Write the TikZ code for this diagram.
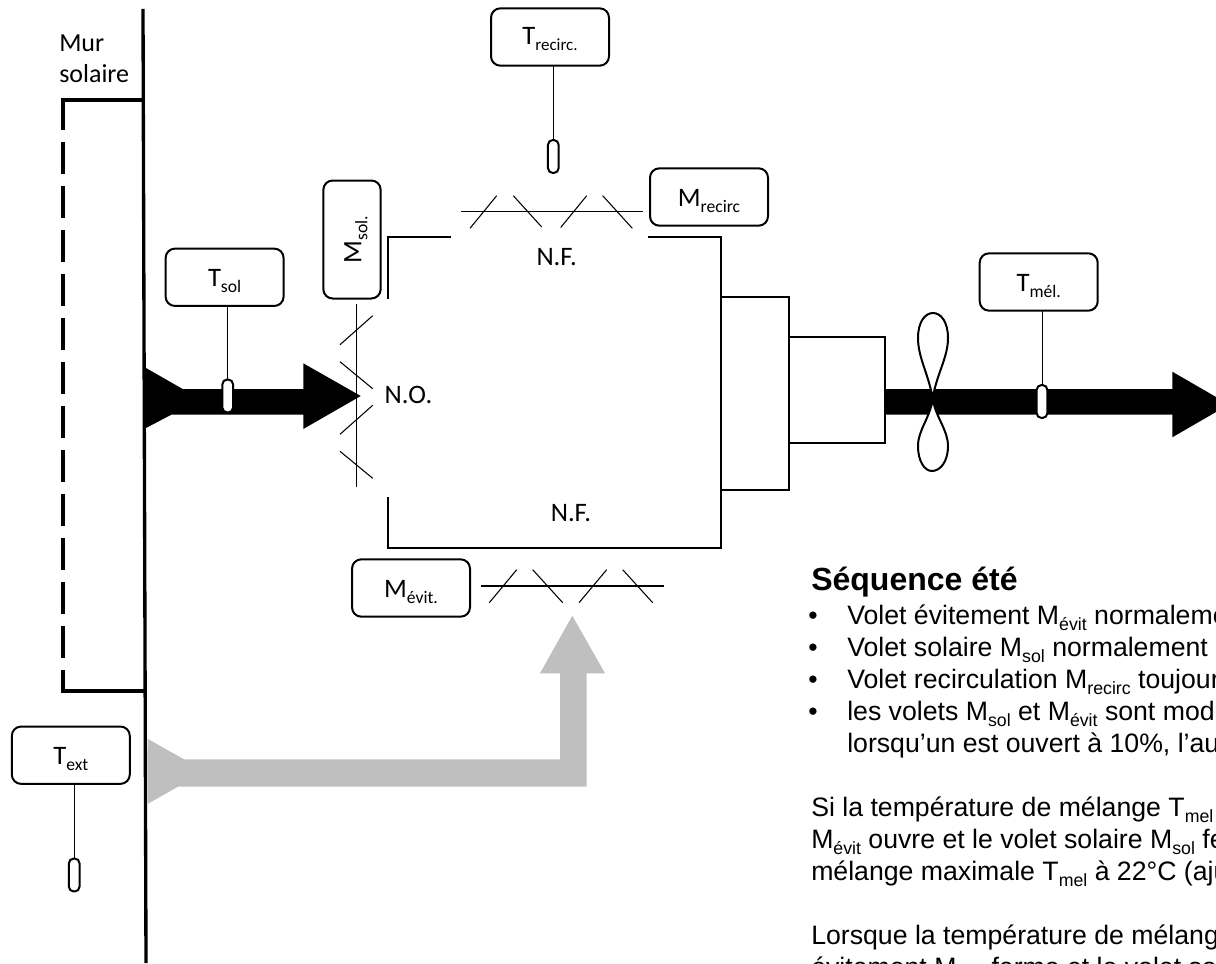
\documentclass[tikz,border=0pt]{standalone}
\usepackage{fontspec}
\setmainfont{Carlito}
\newfontfamily\arialf{Liberation Sans}
\definecolor{greyflow}{HTML}{BFBFBF}
\newcommand{\lab}[2]{\raisebox{-7pt}[0pt][0pt]{\fontsize{20}{20}\selectfont #1\raisebox{-4.5pt}{\fontsize{13.2}{13.2}\selectfont #2}}}
\newcommand{\labs}[2]{\raisebox{-5.7pt}[0pt][0pt]{\fontsize{20}{20}\selectfont #1\raisebox{-4.5pt}{\fontsize{12.7}{12.7}\selectfont #2}}}
\newcommand{\sbs}[1]{\raisebox{-5pt}{\fontsize{13.3}{13.3}\selectfont #1}}
\tikzset{
  x=0.75pt,y=-0.75pt,
  ctlbox/.style={draw=black,line width=1.5pt,rounded corners=7pt,fill=white,minimum width=88.5pt,minimum height=43pt,inner sep=0pt,outer sep=0pt},
  sensor/.style={draw=black,line width=1.5pt,rounded corners=3.6pt,fill=white,minimum width=8pt,minimum height=24.7pt,inner sep=0pt,outer sep=0pt},
  wire/.style={line width=0.7pt,black},
  wall/.style={line width=2.5pt,black},
  duct/.style={line width=1.6pt,black},
  blade/.style={line width=0.8pt,black},
  plain/.style={font=\fontsize{19.5}{22}\selectfont,inner sep=0pt,anchor=base west},
  seq/.style={font=\arialf\fontsize{20}{24}\selectfont,inner sep=0pt,anchor=base west},
  seqhead/.style={font=\arialf\bfseries\fontsize{24}{28}\selectfont,inner sep=0pt,anchor=base west},
  small/.style={font=\fontsize{20}{22}\selectfont,inner sep=0pt}
}
\begin{document}
\begin{tikzpicture}
\useasboundingbox (0,0) rectangle (1216,963);
\clip (0,0) rectangle (1216,963);
% walls
\draw[wall] (143,9) -- (146,963);
\draw[wall] (62.5,100) -- (144,100);
\draw[wall,line width=3pt,dash pattern=on 24pt off 9pt] (62.5,98) -- (62.5,691);
\draw[wall] (61,691) -- (145,691);
% flows
\fill[black] (146,368) -- (182.7,389) -- (303.3,389) -- (303.3,363.3) -- (360.7,396) -- (303.3,429) -- (303.3,414.5) -- (171.7,414.5) -- (146,428) -- cycle;
\fill[black] (884,389) -- (1172.3,389) -- (1172.3,371.7) -- (1229,404.5) -- (1172.3,437.3) -- (1172.3,414.5) -- (884,414.5) -- cycle;
\fill[greyflow] (147.5,738.7) -- (184,759.3) -- (560,759.3) -- (560,673.3) -- (540,673.3) -- (572.3,615.7) -- (605,673.3) -- (586.7,673.3) -- (586.7,786.7) -- (178,786.7) -- (147.5,804) -- cycle;
% duct
\draw[duct] (388,298.5) -- (388,237.3) -- (451,237.3);
\draw[duct] (648,237.3) -- (721.3,237.3) -- (721.3,548) -- (387.7,548) -- (387.7,496.7);
\draw[duct] (721.3,297.3) rectangle (789.3,490);
\draw[duct] (789.3,337) rectangle (884.7,443.3);
% top damper
\draw[blade] (461,211.7) -- (643.3,211.7);
\draw[blade] (470,228.3) -- (496.7,195.7);
\draw[blade] (513.3,195.7) -- (541.7,227);
\draw[blade] (560.7,227.5) -- (586.7,195.7);
\draw[blade] (602.7,195.7) -- (632.3,228.3);
% bottom damper
\draw[blade] (481,586) -- (664,586);
\draw[blade] (489.3,602.7) -- (516.7,569.7);
\draw[blade] (532.7,569.7) -- (562.7,602.7);
\draw[blade] (579,602.7) -- (606.7,569.7);
\draw[blade] (622.7,569.7) -- (652.7,602.7);
% left damper
\draw[blade] (356.7,304) -- (356.7,486.7);
\draw[blade] (340,344.7) -- (372.7,315.7);
\draw[blade] (340,361.7) -- (372.7,388.7);
\draw[blade] (340,434.3) -- (372.7,405.3);
\draw[blade] (340,451.3) -- (372.7,478.3);
% fan
\draw[line width=1.5pt,fill=white] (932.7,399) .. controls (929,375) and (918,358) .. (918,338) .. controls (918,322) and (925,313) .. (933,313) .. controls (941,313) and (948,322) .. (948,338) .. controls (948,358) and (936,375) .. (932.7,399);
\draw[line width=1.5pt,fill=white] (932.7,399) .. controls (930,418) and (918,430) .. (918,446) .. controls (918,462) and (925,471) .. (932,471) .. controls (940,471) and (948,462) .. (948,446) .. controls (948,430) and (936,418) .. (932.7,399);
% control boxes
\node[ctlbox] (tsol) at (224.6,277.3) {\lab{T}{sol}};
\node[ctlbox,rotate=90] (msol) at (352,239.5) {\lab{M}{sol.}};
\node[ctlbox] (trec) at (550,37) {\labs{T}{recirc.}};
\node[ctlbox] (mrec) at (709,197) {\lab{M}{recirc}};
\node[ctlbox] (tmel) at (1038.7,282) {\lab{T}{mél.}};
\node[ctlbox] (text) at (70.8,755.2) {\lab{T}{ext}};
\node[ctlbox] (mevi) at (411,588) {\lab{M}{évit.}};
% sensors
\node[sensor] (strec) at (553.3,156.5) {};
\node[sensor] (stsol) at (227.7,396) {};
\node[sensor] (stmel) at (1042,401.5) {};
\node[sensor] (stext) at (74.2,875) {};
\draw[wire] (trec.south -| strec.north) -- (strec.north);
\draw[wire] (tsol.south -| stsol.north) -- (stsol.north);
\draw[wire] (tmel.south -| stmel.north) -- (stmel.north);
\draw[wire] (text.south -| stext.north) -- (stext.north);
% labels
\node[plain] (mur) at (59,52) {Mur};
\node[plain] (sol) at (59,83) {solaire};
\node[small] (nf1) at (556.7,257) {N.F.};
\node[small] (nf2) at (571,513) {N.F.};
\node[small] (no) at (408.5,395) {N.O.};
% sequence text
\node[seqhead] (h) at (811,590) {Séquence été};
\node[seq] (b1) at (808,624) {•};
\node[seq] (b2) at (808,656) {•};
\node[seq] (b3) at (808,688) {•};
\node[seq] (b4) at (808,720) {•};
\node[seq] (l1) at (847,624) {Volet évitement M\sbs{évit} normalement};
\node[seq] (l2) at (847,656) {Volet solaire M\sbs{sol} normalement ouvert};
\node[seq] (l3) at (847,688) {Volet recirculation M\sbs{recirc} toujours};
\node[seq] (l4) at (847,720) {les volets M\sbs{sol} et M\sbs{évit} sont modulés};
\node[seq] (l5) at (847,752) {lorsqu’un est ouvert à 10\%, l’autre};
\node[seq] (p1) at (811,816) {Si la température de mélange T\sbs{mel}};
\node[seq] (p2) at (811,848) {M\sbs{évit} ouvre et le volet solaire M\sbs{sol} ferme};
\node[seq] (p3) at (811,880) {mélange maximale T\sbs{mel} à 22°C (ajustable)};
\node[seq] (p4) at (811,944) {Lorsque la température de mélange};
\node[seq] (p5) at (811,976) {évitement M\sbs{évit} ferme et le volet solaire};
\end{tikzpicture}
\end{document}
